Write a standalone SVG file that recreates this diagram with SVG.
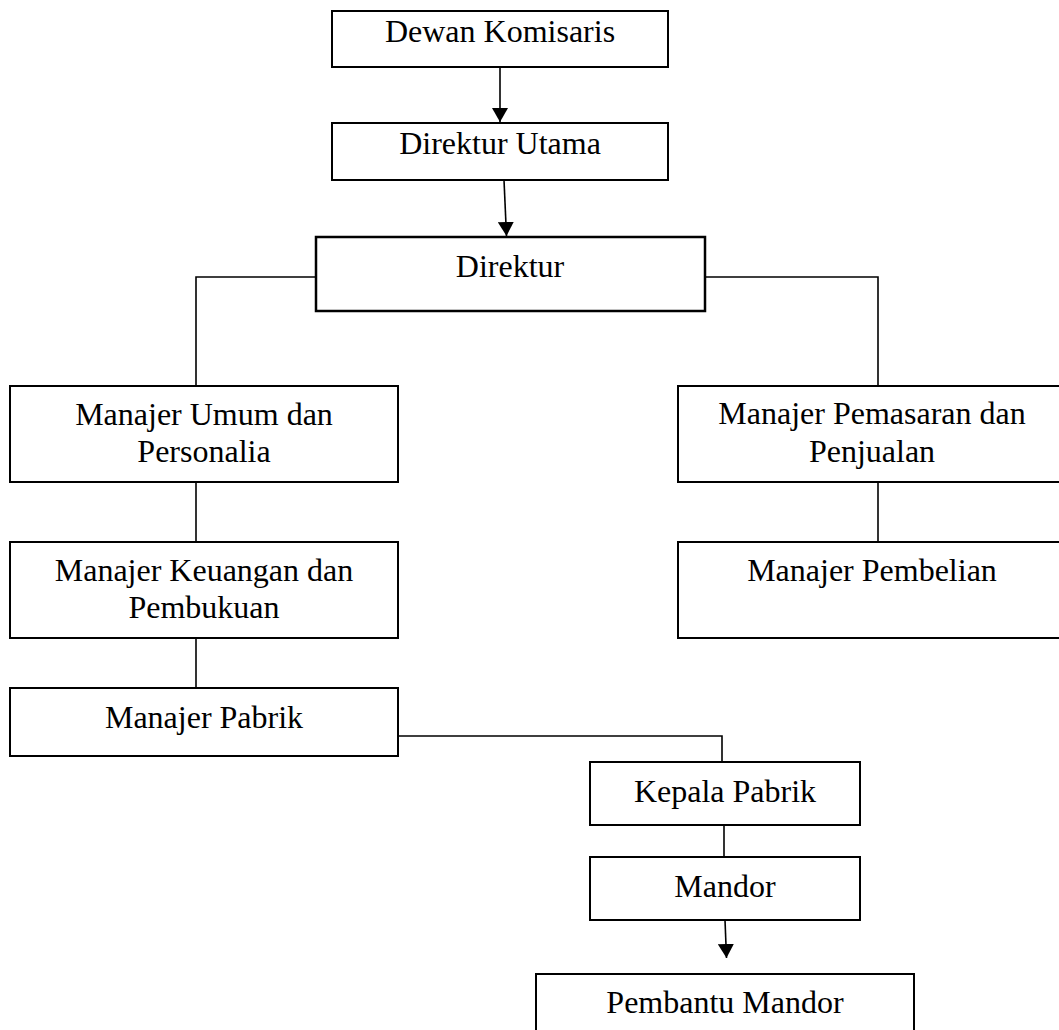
<svg xmlns="http://www.w3.org/2000/svg" width="1059" height="1030" viewBox="0 0 1059 1030">
<style>
.box{fill:#fff;stroke:#000;stroke-width:2}
.thick{stroke-width:2.5}
.t{font-family:"Liberation Serif","Times New Roman",serif;font-size:32px;fill:#000;text-anchor:middle}
.c{fill:none;stroke:#000;stroke-width:1.6}
</style>
<defs>
<marker id="ah" markerUnits="userSpaceOnUse" markerWidth="16" markerHeight="16" viewBox="0 0 16 16" refX="14" refY="8" orient="auto">
<path d="M0,0 L14,8 L0,16 Z" fill="#000"/>
</marker>
</defs>
<rect width="1059" height="1030" fill="#fff"/>
<g id="connectors">
<line class="c" x1="500" y1="67" x2="500" y2="122" marker-end="url(#ah)"/>
<line class="c" x1="504" y1="180" x2="506.5" y2="236" marker-end="url(#ah)"/>
<polyline class="c" points="315,277 196,277 196,386"/>
<polyline class="c" points="705,277 878,277 878,386"/>
<line class="c" x1="196" y1="482" x2="196" y2="542"/>
<line class="c" x1="196" y1="638" x2="196" y2="688"/>
<line class="c" x1="878" y1="482" x2="878" y2="542"/>
<polyline class="c" points="398,736 722,736 722,762"/>
<line class="c" x1="724" y1="825" x2="724" y2="857"/>
<line class="c" x1="725" y1="920" x2="726.5" y2="958" marker-end="url(#ah)"/>
</g>
<g id="dewan-komisaris">
<rect class="box" x="332" y="11" width="336" height="56"/>
<text class="t" x="500" y="42">Dewan Komisaris</text>
</g>
<g id="direktur-utama">
<rect class="box" x="332" y="123" width="336" height="57"/>
<text class="t" x="500" y="154">Direktur Utama</text>
</g>
<g id="direktur">
<rect class="box thick" x="316" y="237" width="389" height="74"/>
<text class="t" x="510" y="277">Direktur</text>
</g>
<g id="manajer-umum">
<rect class="box" x="10" y="386" width="388" height="96"/>
<text class="t" x="204" y="425">Manajer Umum dan</text>
<text class="t" x="204" y="462">Personalia</text>
</g>
<g id="manajer-keuangan">
<rect class="box" x="10" y="542" width="388" height="96"/>
<text class="t" x="204" y="581">Manajer Keuangan dan</text>
<text class="t" x="204" y="618">Pembukuan</text>
</g>
<g id="manajer-pabrik">
<rect class="box" x="10" y="688" width="388" height="68"/>
<text class="t" x="204" y="728">Manajer Pabrik</text>
</g>
<g id="manajer-pemasaran">
<rect class="box" x="678" y="386" width="390" height="96"/>
<text class="t" x="872" y="424">Manajer Pemasaran dan</text>
<text class="t" x="872" y="462">Penjualan</text>
</g>
<g id="manajer-pembelian">
<rect class="box" x="678" y="542" width="390" height="96"/>
<text class="t" x="872" y="581">Manajer Pembelian</text>
</g>
<g id="kepala-pabrik">
<rect class="box" x="590" y="762" width="270" height="63"/>
<text class="t" x="725" y="802">Kepala Pabrik</text>
</g>
<g id="mandor">
<rect class="box" x="590" y="857" width="270" height="63"/>
<text class="t" x="725" y="897">Mandor</text>
</g>
<g id="pembantu-mandor">
<rect class="box" x="536" y="974" width="378" height="70"/>
<text class="t" x="725" y="1013">Pembantu Mandor</text>
</g>
</svg>
